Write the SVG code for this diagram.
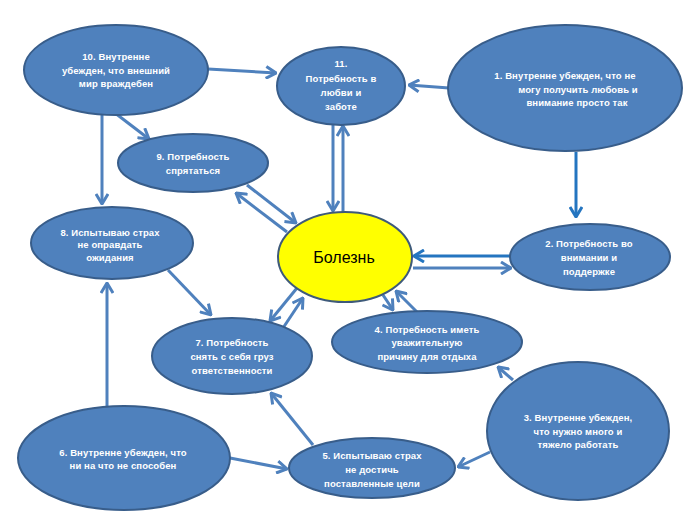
<svg xmlns="http://www.w3.org/2000/svg" width="700" height="525" viewBox="0 0 700 525">
<defs>
<style>
.n{fill:#4F81BD;stroke:#385D8A;stroke-width:2}
.t{fill:#fff;font-family:"Liberation Sans",Arial,sans-serif;font-weight:bold;font-size:9.5px;text-anchor:middle;letter-spacing:0.1px}
.c{fill:none;stroke:#4F81BD;stroke-width:3}
.b{stroke:#2475C0}
</style>
<marker id="a" viewBox="0 0 12 14" refX="11" refY="7" markerWidth="12" markerHeight="14" markerUnits="userSpaceOnUse" orient="auto">
<path d="M1,1 L11,7 L1,13" fill="none" stroke="#4F81BD" stroke-width="3"/>
</marker>
<marker id="ab" viewBox="0 0 12 14" refX="11" refY="7" markerWidth="12" markerHeight="14" markerUnits="userSpaceOnUse" orient="auto">
<path d="M1,1 L11,7 L1,13" fill="none" stroke="#2475C0" stroke-width="3"/>
</marker>
</defs>
<rect width="700" height="525" fill="#fff"/>
<g id="connectors">
<line class="c" x1="208" y1="69" x2="276" y2="73" marker-end="url(#a)"/>
<line class="c" x1="115" y1="113" x2="149" y2="139" marker-end="url(#a)"/>
<line class="c" x1="102" y1="115" x2="102" y2="204" marker-end="url(#a)"/>
<line class="c" x1="333" y1="125" x2="333" y2="211" marker-end="url(#a)"/>
<line class="c" x1="343" y1="212" x2="343" y2="126" marker-end="url(#a)"/>
<line class="c" x1="247" y1="185" x2="296" y2="223" marker-end="url(#a)"/>
<line class="c" x1="287" y1="232" x2="236" y2="193" marker-end="url(#a)"/>
<line class="c" x1="168" y1="270" x2="211" y2="315" marker-end="url(#a)"/>
<line class="c" x1="107" y1="407" x2="107" y2="283" marker-end="url(#a)"/>
<line class="c" x1="297" y1="288" x2="270" y2="321" marker-end="url(#a)"/>
<line class="c" x1="283" y1="328" x2="303" y2="298" marker-end="url(#a)"/>
<line class="c" x1="383" y1="295" x2="393" y2="310" marker-end="url(#a)"/>
<line class="c" x1="417" y1="312" x2="396" y2="291" marker-end="url(#a)"/>
<line class="c b" x1="510" y1="256" x2="414" y2="256" marker-end="url(#ab)"/>
<line class="c" x1="413" y1="268" x2="511" y2="268" marker-end="url(#a)"/>
<line class="c b" x1="576" y1="152" x2="576" y2="217" marker-end="url(#ab)"/>
<line class="c" x1="449" y1="88" x2="409" y2="85" marker-end="url(#a)"/>
<line class="c" x1="513" y1="380" x2="498" y2="367" marker-end="url(#a)"/>
<line class="c" x1="490" y1="452" x2="458" y2="467" marker-end="url(#a)"/>
<line class="c" x1="230" y1="458" x2="287" y2="469" marker-end="url(#a)"/>
<line class="c" x1="313" y1="445" x2="271" y2="393" marker-end="url(#a)"/>
</g>
<g id="node10">
<ellipse class="n" cx="116" cy="70" rx="92" ry="45"/>
<text class="t" x="116" y="60">10. Внутренне</text>
<text class="t" x="116" y="74">убежден, что внешний</text>
<text class="t" x="116" y="87">мир враждебен</text>
</g>
<g id="node11">
<ellipse class="n" cx="341" cy="86" rx="64" ry="39"/>
<text class="t" x="341" y="67">11.</text>
<text class="t" x="341" y="82">Потребность в</text>
<text class="t" x="341" y="96">любви и</text>
<text class="t" x="341" y="110">заботе</text>
</g>
<g id="node1">
<ellipse class="n" cx="565" cy="88" rx="117" ry="63"/>
<text class="t" x="565" y="79">1. Внутренне убежден, что не</text>
<text class="t" x="578" y="93">могу получить любовь и</text>
<text class="t" x="577" y="106">внимание просто так</text>
</g>
<g id="node9">
<ellipse class="n" cx="193" cy="163" rx="75" ry="29"/>
<text class="t" x="193" y="160">9. Потребность</text>
<text class="t" x="193" y="174">спрятаться</text>
</g>
<g id="node8">
<ellipse class="n" cx="112" cy="243" rx="81" ry="36"/>
<text class="t" x="110" y="236">8. Испытываю страх</text>
<text class="t" x="110" y="248">не оправдать</text>
<text class="t" x="110" y="261">ожидания</text>
</g>
<g id="disease">
<ellipse cx="345" cy="257" rx="67" ry="45" fill="#FFFF00" stroke="#3E5A7A" stroke-width="2"/>
<text x="344" y="263" font-family="Liberation Sans,Arial,sans-serif" font-size="16" fill="#000" text-anchor="middle">Болезнь</text>
</g>
<g id="node2">
<ellipse class="n" cx="590" cy="257" rx="80" ry="33"/>
<text class="t" x="589" y="247">2. Потребность во</text>
<text class="t" x="589" y="261">внимании и</text>
<text class="t" x="589" y="275">поддержке</text>
</g>
<g id="node7">
<ellipse class="n" cx="232" cy="356" rx="80" ry="38"/>
<text class="t" x="232" y="346">7. Потребность</text>
<text class="t" x="232" y="360">снять с себя груз</text>
<text class="t" x="232" y="374">ответственности</text>
</g>
<g id="node4">
<ellipse class="n" cx="427" cy="342" rx="95" ry="31"/>
<text class="t" x="427" y="333">4. Потребность иметь</text>
<text class="t" x="427" y="346">уважительную</text>
<text class="t" x="427" y="360">причину для отдыха</text>
</g>
<g id="node3">
<ellipse class="n" cx="578" cy="431" rx="91" ry="69"/>
<text class="t" x="578" y="421">3. Внутренне убежден,</text>
<text class="t" x="578" y="435">что нужно много и</text>
<text class="t" x="578" y="448">тяжело работать</text>
</g>
<g id="node5">
<ellipse class="n" cx="372" cy="468" rx="83" ry="30"/>
<text class="t" x="372" y="459">5. Испытываю страх</text>
<text class="t" x="372" y="473">не достичь</text>
<text class="t" x="372" y="487">поставленные цели</text>
</g>
<g id="node6">
<ellipse class="n" cx="124" cy="458" rx="106" ry="52"/>
<text class="t" x="123" y="456">6. Внутренне убежден, что</text>
<text class="t" x="123" y="469">ни на что не способен</text>
</g>
</svg>
